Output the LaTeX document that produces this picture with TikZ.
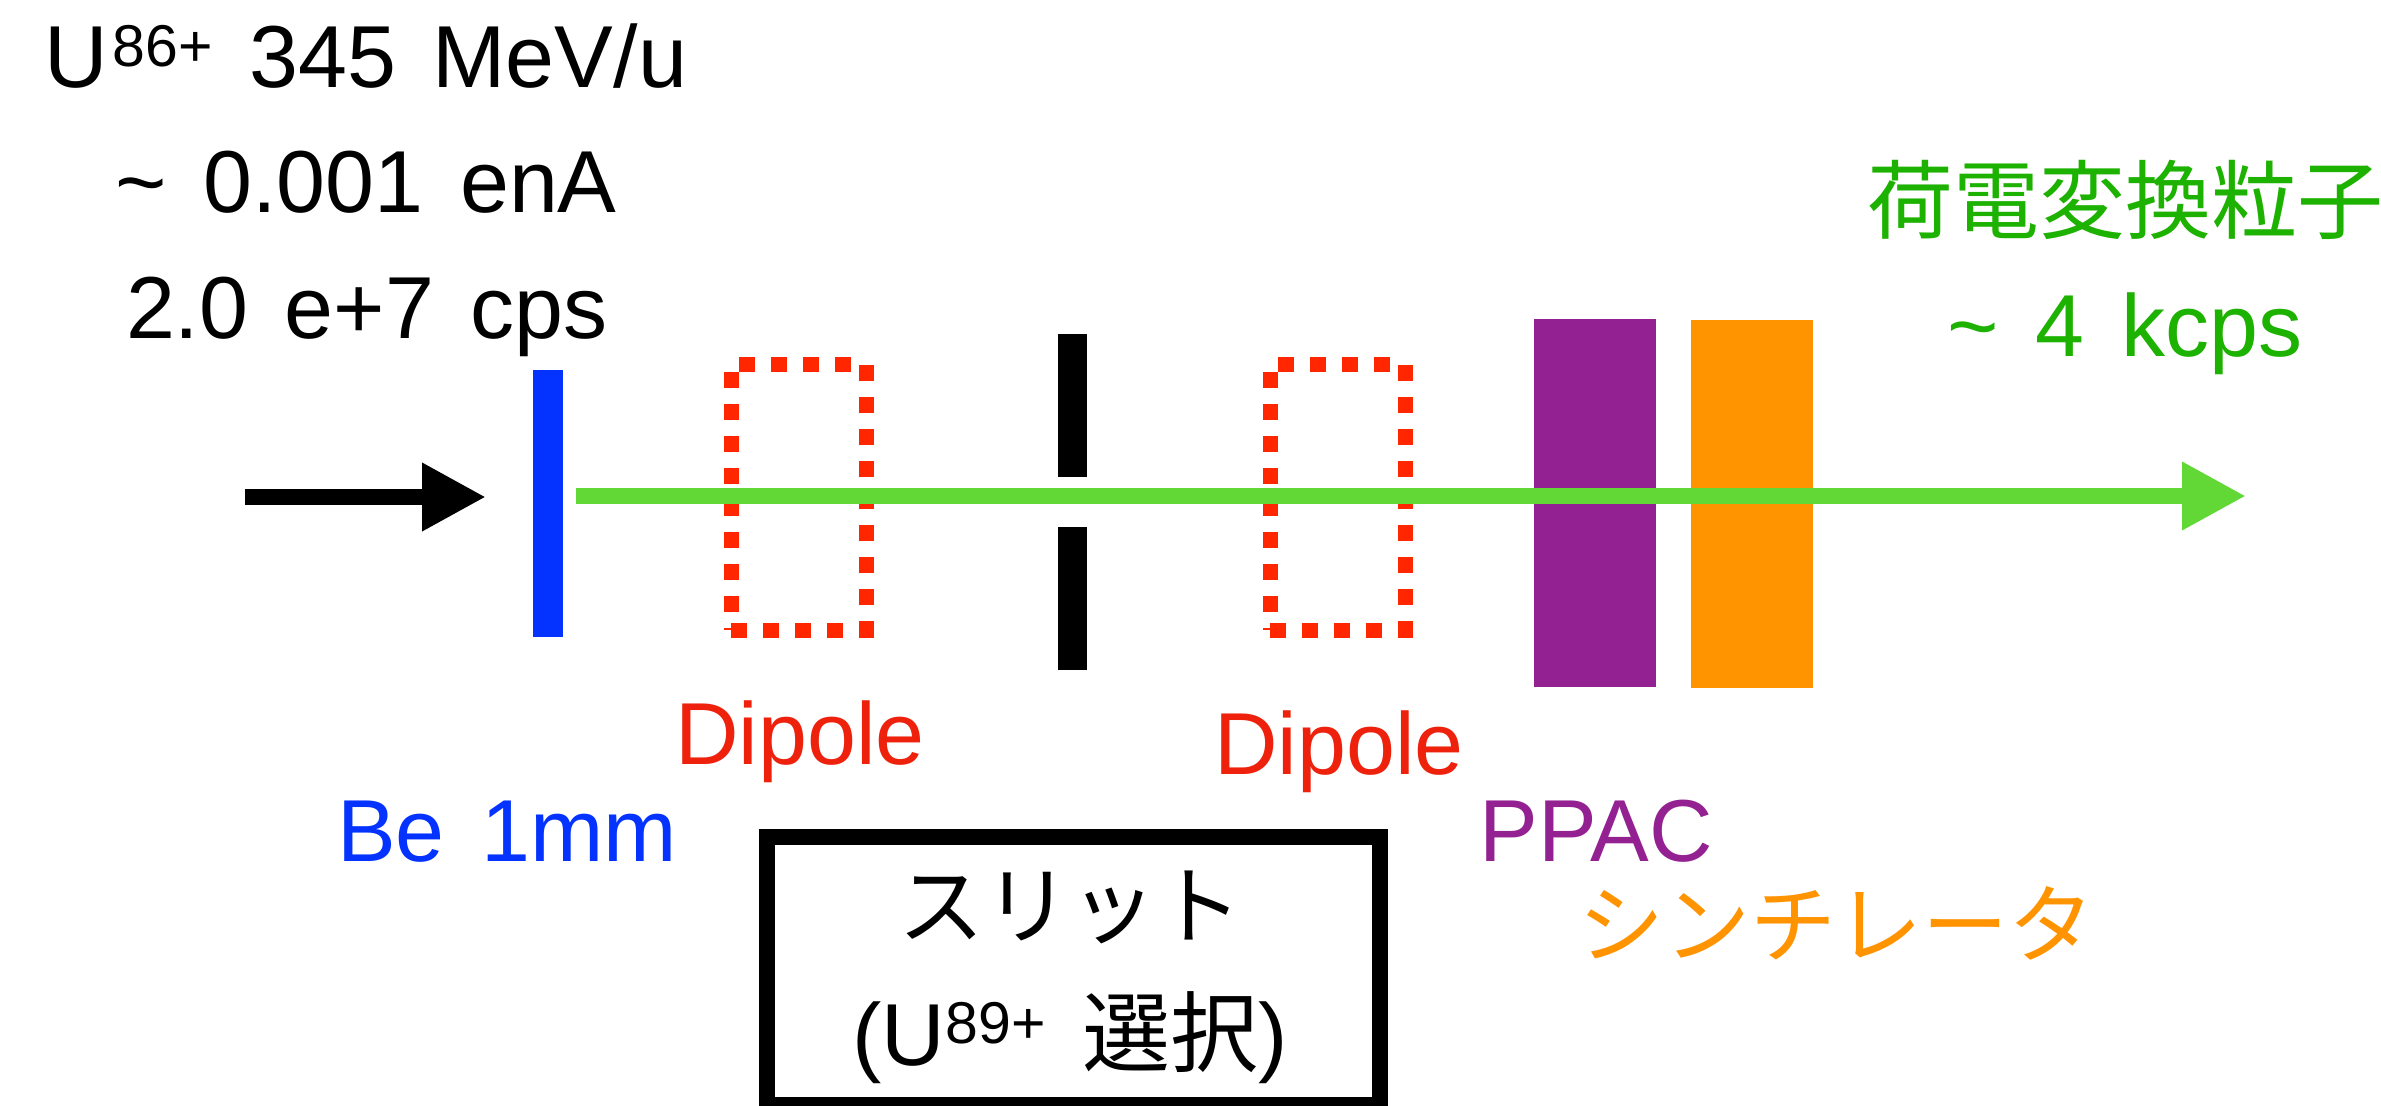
\documentclass[tikz,border=0pt]{standalone}
\usepackage{fontspec}
\setmainfont[WordSpace=1.5]{Liberation Sans}
\newfontfamily\jp{Noto Sans CJK JP}
\usetikzlibrary{arrows.meta}
\definecolor{beblue}{HTML}{0433FF}
\definecolor{dred}{HTML}{FF2600}
\definecolor{dtext}{HTML}{EE220C}
\definecolor{beam}{HTML}{61D836}
\definecolor{tgreen}{HTML}{1DB100}
\definecolor{ppac}{HTML}{942192}
\definecolor{scint}{HTML}{FF9300}
\newcommand{\supx}[2][21]{\raisebox{#1pt}{\fontsize{59}{59}\selectfont #2}}
\begin{document}
\begin{tikzpicture}[x=1pt,y=-1pt,
  lbl/.style={inner sep=0pt,anchor=base,font=\fontsize{88}{88}\selectfont},
  jlbl/.style={inner sep=0pt,anchor=base,font=\fontsize{86}{86}\selectfont\jp},
  solidbar/.style={draw=none,inner sep=0pt,outer sep=0pt},
  dipole/.style={draw=dred,line width=15pt,dash pattern=on 16pt off 16pt,inner sep=0pt,
    minimum width=135pt,minimum height=266pt},
  beamarrow/.style={line width=16pt,-{Triangle[length=64pt,width=64pt]}}]
\useasboundingbox[fill=white] (0,0) rectangle (2381,1105);

% components
\node[solidbar,fill=beblue,minimum width=30pt,minimum height=267pt] (target) at (548,503.5) {};
\node[dipole] (dip1) at (798.5,497) {};
\node[dipole] (dip2) at (1337.5,497) {};
\node[solidbar,fill=black,minimum width=29pt,minimum height=143pt] (slitup) at (1072.5,405.5) {};
\node[solidbar,fill=black,minimum width=29pt,minimum height=143pt] (slitlo) at (1072.5,598.5) {};
\node[solidbar,fill=ppac,minimum width=122pt,minimum height=368pt] (ppacbox) at (1595,503) {};
\node[solidbar,fill=scint,minimum width=122pt,minimum height=368pt] (scintbox) at (1752,504) {};

% beams
\coordinate (instart) at (245,497);
\coordinate (inend) at (486,497);
\draw[beamarrow,black] (instart) -- (inend);
\coordinate (beamstart) at (576,496);
\coordinate (beamend) at (2246,496);
\draw[beamarrow,beam] (beamstart) -- (beamend);

% slit box
\node[draw=black,line width=16pt,inner sep=0pt,minimum width=613pt,minimum height=268pt] (slitbox) at (1073.5,971) {};

% labels
\node[lbl] (l1) at (366,88) {U\kern4pt\supx{86+} 345 MeV/u};
\node[lbl] (l2) at (366,212) {\textasciitilde{} 0.001 enA};
\node[lbl] (l3) at (367,338) {2.0 e+7 cps};
\node[jlbl,text=tgreen] (ccp) at (2125,232) {荷電変換粒子};
\node[lbl,text=tgreen] (rate) at (2125,356) {\textasciitilde{} 4 kcps};
\node[lbl,text=beblue] (belbl) at (507,861) {Be 1mm};
\node[lbl,text=dtext] (d1lbl) at (800,764) {Dipole};
\node[lbl,text=dtext] (d2lbl) at (1339,774) {Dipole};
\node[lbl,text=ppac] (ppaclbl) at (1596,861) {PPAC};
\node[jlbl,text=scint] (scintlbl) at (1836,956) {シンチレータ};
\node[jlbl] (slitlbl) at (1070,937) {スリット};
\node[lbl] (sellbl) at (1070,1065) {(U\supx[22]{89+} {\jp 選択})};
\end{tikzpicture}
\end{document}
